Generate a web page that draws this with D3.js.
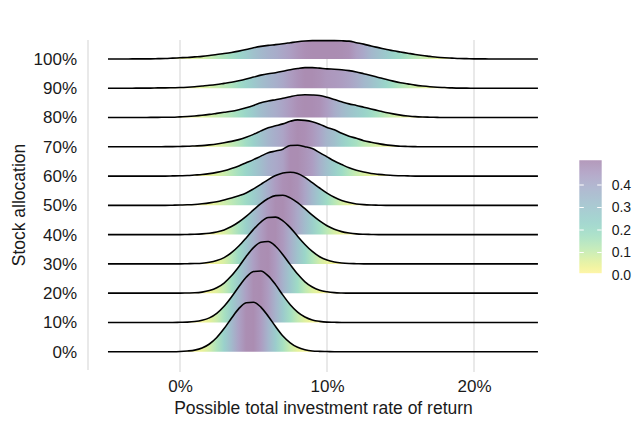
<!DOCTYPE html>
<html>
<head>
<meta charset="utf-8">
<script src="https://cdn.jsdelivr.net/npm/d3@7"></script>
<style>
  html, body { margin: 0; padding: 0; background: #ffffff; }
  svg { display: block; font-family: "Liberation Sans", Arial, Helvetica, sans-serif; }
</style>
</head>
<body>
<script>
// ---------------- DATA ----------------
const stockAllocation = ["0%", "10%", "20%", "30%", "40%", "50%", "60%", "70%", "80%", "90%", "100%"];
// return grid (percent), every 0.5 point from -5 to 24.5
const returnGrid = d3.range(-5, 24.5 + 1e-9, 0.5);
const returnRange = [-4.9, 24.35];
const xTickValues = [0, 10, 20];
const xTickLabels = ["0%", "10%", "20%"];
const legendTickValues = [0.0, 0.1, 0.2, 0.3, 0.4];
const legendTickLabels = ["0.0", "0.1", "0.2", "0.3", "0.4"];
const fillRange = [0.008, 0.51];

// estimated densities, one value per grid point
const density0 = [0,0,0,0,0,0,0,0,0,0,
  0.001,0.004,0.009,0.021,0.044,0.081,0.132,0.191,0.246,0.280,0.283,0.255,0.203,0.144,0.090,0.051,0.025,0.011,0.004,0.002,0.001,
  0,0,0,0,0,0,0,0,0,0, 0,0,0,0,0,0,0,0,0,0, 0,0,0,0,0,0,0,0,0];
const density10 = [0,0,0,0,0,0,0,0,0,0,
  0.001,0.002,0.005,0.012,0.026,0.052,0.092,0.145,0.204,0.258,0.291,0.294,0.266,0.216,0.156,0.101,0.059,0.031,0.014,0.006,0.002,0.001,
  0,0,0,0,0,0,0,0,0,0, 0,0,0,0,0,0,0,0,0,0, 0,0,0,0,0,0,0,0];
const density20 = [0,0,0,0,0,0,0,0,0,0,0,
  0.001,0.002,0.006,0.015,0.031,0.058,0.099,0.151,0.209,0.260,0.291,0.295,0.268,0.220,0.163,0.109,0.065,0.035,0.017,0.008,0.003,0.001,
  0,0,0,0,0,0,0,0,0,0, 0,0,0,0,0,0,0,0,0,0, 0,0,0,0,0,0,0];
const density30 = [0,0,0,0,0,0,0,0,0,0,0,
  0.001,0.002,0.004,0.009,0.019,0.036,0.064,0.102,0.148,0.197,0.239,0.265,0.267,0.246,0.207,0.158,0.111,0.071,0.041,0.022,0.011,0.005,0.002,0.001,
  0,0,0,0,0,0,0,0,0,0, 0,0,0,0,0,0,0,0,0,0, 0,0,0,0,0];
const density40 = [0,0,0,0,0,0,0,0,0,0,0,
  0.001,0.002,0.004,0.008,0.015,0.027,0.046,0.072,0.104,0.141,0.177,0.206,0.223,0.225,0.210,0.183,0.148,0.111,0.078,0.051,0.031,0.017,0.009,0.004,0.002,0.001,
  0,0,0,0,0,0,0,0,0,0, 0,0,0,0,0,0,0,0,0,0, 0,0,0];
const density50 = [0,0,0,0,0,0,0,0,0,
  0.001,0.002,0.003,0.005,0.009,0.014,0.021,0.031,0.042,0.055,0.071,0.094,0.120,0.147,0.170,0.185,0.189,0.182,0.160,0.130,0.099,0.070,0.046,0.028,0.016,0.008,0.004,0.002,0.001,
  0,0,0,0,0,0,0,0,0,0, 0,0,0,0,0,0,0,0,0,0, 0,0];
const density60 = [0,0,0,0,0,0,0,0,0,
  0.001,0.002,0.003,0.006,0.009,0.014,0.021,0.030,0.043,0.058,0.076,0.094,0.114,0.133,0.143,0.154,0.175,0.176,0.168,0.157,0.134,0.110,0.086,0.066,0.047,0.033,0.023,0.015,0.010,0.006,0.003,0.002,0.001,
  0,0,0,0,0,0,0,0,0,0, 0,0,0,0,0,0,0,0];
const density70 = [0,0,0,0,0,0,0,0,
  0.001,0.001,0.002,0.003,0.005,0.007,0.011,0.016,0.023,0.031,0.041,0.055,0.071,0.091,0.109,0.120,0.131,0.146,0.154,0.151,0.143,0.129,0.111,0.097,0.077,0.060,0.049,0.035,0.026,0.018,0.011,0.007,0.003,0.002,0.001,
  0,0,0,0,0,0,0,0,0,0, 0,0,0,0,0,0,0];
const density80 = [0,0,0,0,0,0,
  0.001,0.001,0.002,0.002,0.004,0.006,0.009,0.013,0.018,0.024,
  0.030,0.036,0.045,0.056,0.069,0.084,0.094,0.102,0.110,0.119,
  0.127,0.130,0.129,0.126,0.116,0.103,0.090,0.078,0.069,0.059,
  0.049,0.039,0.029,0.021,0.014,0.009,0.005,0.003,0.002,0.001,
  0,0,0,0,0,0,0,0,0,0, 0,0,0,0];
const density90 = [0,0,0,0,
  0.001,0.001,0.001,0.002,0.002,0.003,0.004,0.006,0.009,0.013,
  0.017,0.022,0.028,0.034,0.043,0.053,0.064,0.075,0.083,0.089,
  0.097,0.106,0.113,0.118,0.118,0.115,0.111,0.109,0.106,0.101,
  0.093,0.083,0.073,0.062,0.051,0.041,0.032,0.025,0.018,0.013,
  0.009,0.006,0.004,0.002,0.001,0.001,
  0,0,0,0,0,0,0,0,0,0];
const density100 = [0,0,0,0,
  0.001,0.001,0.001,0.002,0.003,0.005,0.007,0.009,0.012,0.015,
  0.020,0.026,0.031,0.037,0.045,0.054,0.064,0.072,0.078,0.082,
  0.087,0.093,0.099,0.103,0.105,0.105,0.105,0.105,0.104,0.102,
  0.093,0.085,0.074,0.065,0.056,0.047,0.040,0.033,0.026,0.020,
  0.015,0.010,0.007,0.005,0.003,0.002,0.001,0.001,
  0,0,0,0,0,0,0,0];

const densities = [density0, density10, density20, density30, density40, density50,
                   density60, density70, density80, density90, density100];

// ---------------- CHART ----------------
const W = 642, H = 428;
const panel = { left: 88, top: 40, bottom: 372 };

const svg = d3.select("body").append("svg").attr("width", W).attr("height", H);
const defs = svg.append("defs");

const x = d3.scaleLinear().domain([-5, 25]).range([106.5, 547.5]);
const y = d3.scalePoint().domain(stockAllocation).range([351.7, 59]);
const ridgeHeight = d3.scaleLinear().domain([0, 0.3]).range([0, 52.5]);
const legendY = d3.scaleLinear().domain([0, 0.5]).range([275, 162.5]);

function blended(v, a) {
  const t = Math.max(0, Math.min(1, (v - fillRange[0]) / (fillRange[1] - fillRange[0])));
  const c = d3.rgb(d3.interpolateViridis(1 - t));
  return d3.rgb(255 + (c.r - 255) * a, 255 + (c.g - 255) * a, 255 + (c.b - 255) * a).formatHex();
}

// grid lines
svg.append("g").selectAll("line").data(xTickValues).join("line")
  .attr("x1", d => x(d)).attr("x2", d => x(d))
  .attr("y1", panel.top).attr("y2", panel.bottom)
  .attr("stroke", "#dadada").attr("stroke-width", 1.2);
svg.append("line")
  .attr("x1", panel.left).attr("x2", panel.left)
  .attr("y1", panel.top).attr("y2", 370)
  .attr("stroke", "#dadada").attr("stroke-width", 1.2);

// ridges: draw from top (100%) to bottom (0%)
const clampX = g => Math.max(returnRange[0], Math.min(returnRange[1], g));
const gx0 = x(returnGrid[0]), gx1 = x(returnGrid[returnGrid.length - 1]);
const ridgeG = svg.append("g");

for (let i = stockAllocation.length - 1; i >= 0; i--) {
  const vals = densities[i];
  const n = Math.min(vals.length, returnGrid.length);
  const pts = [];
  for (let j = 0; j < n; j++) pts.push({ r: clampX(returnGrid[j]), d: vals[j] });
  const base = y(stockAllocation[i]);
  const rowMax = d3.max(vals);

  const gradId = "grad" + i;
  const grad = defs.append("linearGradient").attr("id", gradId)
    .attr("gradientUnits", "userSpaceOnUse")
    .attr("x1", gx0).attr("x2", gx1).attr("y1", 0).attr("y2", 0);
  pts.forEach(p => {
    const fv = fillRange[0] + (fillRange[1] - fillRange[0]) * (p.d / rowMax);
    grad.append("stop")
      .attr("offset", ((x(p.r) - gx0) / (gx1 - gx0)).toFixed(4))
      .attr("stop-color", blended(fv, 0.45));
  });

  const area = d3.area().x(p => x(p.r)).y0(base).y1(p => base - ridgeHeight(p.d)).curve(d3.curveMonotoneX);
  const line = d3.line().x(p => x(p.r)).y(p => base - ridgeHeight(p.d)).curve(d3.curveMonotoneX);

  ridgeG.append("path").attr("d", area(pts)).attr("fill", `url(#${gradId})`);
  ridgeG.append("path").attr("d", line(pts)).attr("fill", "none")
    .attr("stroke", "#000").attr("stroke-width", 1.6).attr("stroke-linejoin", "round");
}

// y axis
const yAxis = svg.append("g").attr("transform", `translate(${panel.left},0)`)
  .call(d3.axisLeft(y).tickSize(0).tickPadding(11));
yAxis.select(".domain").remove();
yAxis.selectAll("text").attr("font-size", 17).attr("fill", "#1a1a1a")
  .attr("font-family", "Liberation Sans, Arial, sans-serif");

// x axis
const xAxis = svg.append("g").attr("transform", `translate(0,370)`)
  .call(d3.axisBottom(x).tickValues(xTickValues).tickFormat((d, i) => xTickLabels[i]).tickSize(0).tickPadding(10));
xAxis.select(".domain").remove();
xAxis.selectAll("text").attr("font-size", 17).attr("fill", "#1a1a1a")
  .attr("font-family", "Liberation Sans, Arial, sans-serif");

// axis titles
svg.append("text").attr("x", 323.5).attr("y", 414).attr("text-anchor", "middle")
  .attr("font-size", 17.5).attr("fill", "#1a1a1a").text("Possible total investment rate of return");
svg.append("text").attr("transform", "translate(25,205) rotate(-90)").attr("text-anchor", "middle")
  .attr("font-size", 17.5).attr("fill", "#1a1a1a").text("Stock allocation");

// legend colour bar
const lg = defs.append("linearGradient").attr("id", "legendGrad")
  .attr("x1", 0).attr("y1", 1).attr("x2", 0).attr("y2", 0);
d3.range(0, 1.0001, 0.05).forEach(t => {
  const v = fillRange[0] + (fillRange[1] - fillRange[0]) * t;
  lg.append("stop").attr("offset", t).attr("stop-color", blended(v, 0.4));
});
const barX = 579.3, barW = 22.4;
const barTop = legendY(fillRange[1]), barBot = legendY(fillRange[0]);
svg.append("rect").attr("x", barX).attr("y", barTop).attr("width", barW).attr("height", barBot - barTop)
  .attr("fill", "url(#legendGrad)");
const legendTicks = svg.append("g");
legendTickValues.forEach((v, i) => {
  const ty = legendY(v);
  if (ty > barTop && ty < barBot) {
    legendTicks.append("line").attr("x1", barX).attr("x2", barX + 4.5).attr("y1", ty).attr("y2", ty)
      .attr("stroke", "#fff").attr("stroke-width", 1);
    legendTicks.append("line").attr("x1", barX + barW - 4.5).attr("x2", barX + barW).attr("y1", ty).attr("y2", ty)
      .attr("stroke", "#fff").attr("stroke-width", 1);
  }
  legendTicks.append("text").attr("x", 611.7).attr("y", ty).attr("dy", "0.35em")
    .attr("font-size", 14).attr("fill", "#1a1a1a").text(legendTickLabels[i]);
});
</script>
</body>
</html>
